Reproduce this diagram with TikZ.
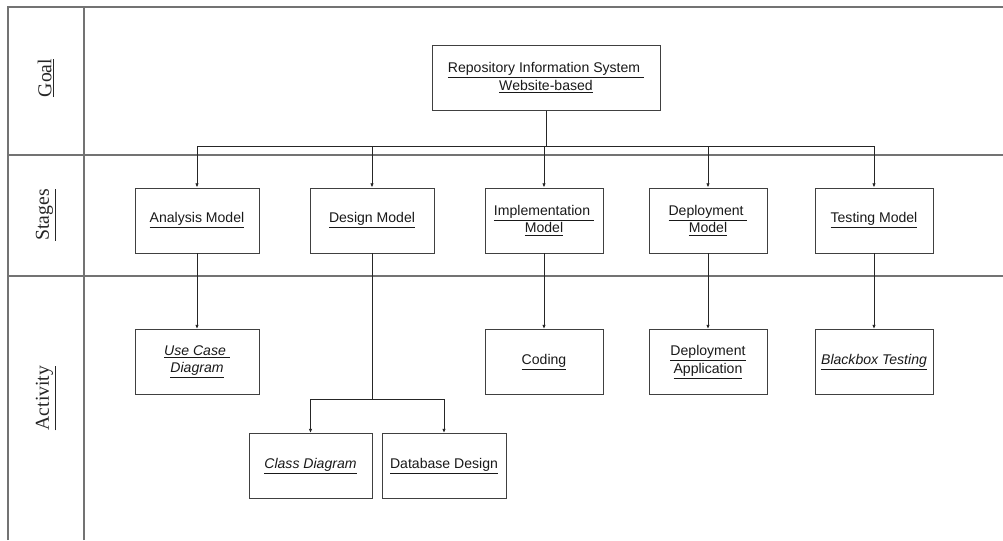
\documentclass[tikz,border=0pt]{standalone}
\usepackage{fontspec}
\setmainfont{Liberation Serif}
\setsansfont{Liberation Sans}
\usetikzlibrary{arrows.meta}
\newcommand{\ulin}[1]{\underline{#1}}
\tikzset{
	band/.style={draw=black!55, line width=1pt},
	box/.style={draw=black!75, line width=0.7pt, align=center, minimum height=1.625cm, font=\sffamily\fontsize{10}{12.5}\selectfont, text=black!90},
	side/.style={rotate=90, font=\fontsize{14}{16}\selectfont, text=black!85},
	link/.style={draw=black!85, line width=0.65pt, -{Latex[length=3pt,width=2.5pt]}}
}
\begin{document}
\begin{tikzpicture}
	\useasboundingbox (0 cm, 0 cm) rectangle (25.075 cm, 13.5 cm);
	% frame and bands
	\draw[band] (0.2 cm, 0 cm) -- (0.2 cm, 13.325 cm) -- (25.075 cm, 13.325 cm);
	\draw[band] (2.1 cm, 0 cm) -- (2.1 cm, 13.325 cm);
	\draw[band] (0.2 cm, 9.625 cm) -- (25.075 cm, 9.625 cm);
	\draw[band] (0.2 cm, 6.6 cm) -- (25.075 cm, 6.6 cm);
	\node[side] (Goal label) at (1.15 cm, 11.55 cm) {\ulin{Goal}};
	\node[side] (Stages label) at (1.15 cm, 8.125 cm) {\ulin{Stages}};
	\node[side] (Activity label) at (1.15 cm, 3.55 cm) {\ulin{Activity}};
	% goal
	\node[box, minimum width=5.7cm] (Goal) at (13.65 cm, 11.55 cm) {\ulin{Repository Information System }\\\ulin{Website-based}};
	% stages
	\node[box, minimum width=3.1cm] (Analysis) at (4.925 cm, 7.9875 cm) {\ulin{Analysis Model}};
	\node[box, minimum width=3.1cm] (Design) at (9.3 cm, 7.9875 cm) {\ulin{Design Model}};
	\node[box, minimum width=2.95cm] (Implementation) at (13.6 cm, 7.9875 cm) {\ulin{Implementation }\\\ulin{Model}};
	\node[box, minimum width=2.95cm] (Deployment) at (17.7 cm, 7.9875 cm) {\ulin{Deployment }\\\ulin{Model}};
	\node[box, minimum width=2.95cm] (Testing) at (21.85 cm, 7.9875 cm) {\ulin{Testing Model}};
	\coordinate (Bus) at (0 cm, 9.85 cm);
	\foreach \n in {Analysis,Design,Implementation,Deployment,Testing}{
		\draw[link] (Goal.south) |- (Bus -| \n.north) -- (\n.north);
	}
	% activities
	\node[box, minimum width=3.1cm] (Use Case) at (4.925 cm, 4.45 cm) {\itshape\ulin{Use Case }\\\itshape\ulin{Diagram}};
	\node[box, minimum width=2.95cm] (Coding) at (13.6 cm, 4.45 cm) {\ulin{Coding}};
	\node[box, minimum width=2.95cm] (Deployment App) at (17.7 cm, 4.45 cm) {\ulin{Deployment}\\\ulin{Application}};
	\node[box, minimum width=2.95cm] (Blackbox) at (21.85 cm, 4.45 cm) {\itshape\ulin{Blackbox Testing}};
	\draw[link] (Analysis.south) -- (Use Case.north);
	\draw[link] (Implementation.south) -- (Coding.north);
	\draw[link] (Deployment.south) -- (Deployment App.north);
	\draw[link] (Testing.south) -- (Blackbox.north);
	\node[box, minimum width=3.075cm] (Class) at (7.7625 cm, 1.85 cm) {\itshape\ulin{Class Diagram}};
	\node[box, minimum width=3.1cm] (Database) at (11.1 cm, 1.85 cm) {\ulin{Database Design}};
	\coordinate (Design Bus) at (0 cm, 3.525 cm);
	\draw[link] (Design.south) |- (Design Bus -| Class.north) -- (Class.north);
	\draw[link] (Design.south) |- (Design Bus -| Database.north) -- (Database.north);
\end{tikzpicture}
\end{document}
